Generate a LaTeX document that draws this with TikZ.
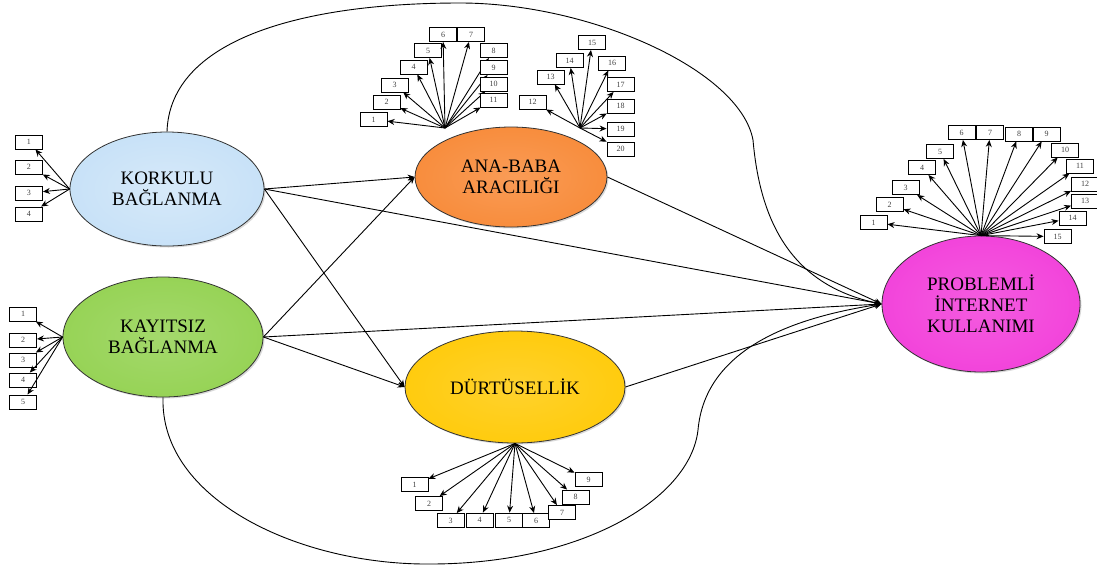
\documentclass[tikz,border=0pt]{standalone}
\usepackage{fontspec}
\setmainfont{Liberation Serif}
\usetikzlibrary{arrows.meta,shapes.geometric,shadows}
\definecolor{cK}{HTML}{C5E0F7}
\definecolor{cY}{HTML}{94D252}
\definecolor{cA}{HTML}{F88A38}
\definecolor{cD}{HTML}{FFCA08}
\definecolor{cP}{HTML}{F23FDA}
\pgfdeclareradialshading{rimK}{\pgfpoint{0bp}{0bp}}{color(0bp)=(cK!70!white); color(30bp)=(cK); color(45bp)=(cK); color(50bp)=(cK!45!black); color(70bp)=(cK!45!black)}
\pgfdeclareradialshading{rimY}{\pgfpoint{0bp}{0bp}}{color(0bp)=(cY!85!white); color(30bp)=(cY); color(45bp)=(cY); color(50bp)=(cY!45!black); color(70bp)=(cY!45!black)}
\pgfdeclareradialshading{rimA}{\pgfpoint{0bp}{0bp}}{color(0bp)=(cA!85!white); color(30bp)=(cA); color(45bp)=(cA); color(50bp)=(cA!45!black); color(70bp)=(cA!45!black)}
\pgfdeclareradialshading{rimD}{\pgfpoint{0bp}{0bp}}{color(0bp)=(cD!85!white); color(30bp)=(cD); color(45bp)=(cD); color(50bp)=(cD!45!black); color(70bp)=(cD!45!black)}
\pgfdeclareradialshading{rimP}{\pgfpoint{0bp}{0bp}}{color(0bp)=(cP!85!white); color(30bp)=(cP); color(45bp)=(cP); color(50bp)=(cP!45!black); color(70bp)=(cP!45!black)}
\begin{document}
\begin{tikzpicture}[x=1pt,y=-1pt,
  lat/.style={ellipse,draw=black!80,line width=0.8pt,inner sep=0pt,align=center,
    font=\fontsize{19}{21}\selectfont,
    drop shadow={shadow xshift=1.5pt,shadow yshift=-1.5pt,opacity=.3}},
  ind/.style={draw,line width=0.9pt,minimum width=27pt,minimum height=14pt,inner sep=0pt,
    font=\fontsize{8}{8}\selectfont,text=black!75,fill=white},
  arr/.style={line width=0.9pt,-{Stealth[length=7pt,width=6pt]}},
  cov/.style={line width=0.9pt,-{Stealth[length=7pt,width=6pt]}}]
\useasboundingbox (0,0) rectangle (1097,566);

% latent variables
\node[lat,shading=rimK,minimum width=194pt,minimum height=114pt] (K) at (167,189) {KORKULU\\BAĞLANMA};
\node[lat,shading=rimY,minimum width=200pt,minimum height=120pt] (Y) at (163,337) {KAYITSIZ\\BAĞLANMA};
\node[lat,shading=rimA,minimum width=192pt,minimum height=100pt] (A) at (511,177) {ANA-BABA\\ARACILIĞI};
\node[lat,shading=rimD,minimum width=220pt,minimum height=112pt] (D) at (515,387) {DÜRTÜSELLİK};
\node[lat,shading=rimP,minimum width=198pt,minimum height=136pt] (P) at (981,304) {PROBLEMLİ\\İNTERNET\\KULLANIMI};

% structural paths
\draw[arr] (K.east) -- (A.west);
\draw[arr] (K.east) -- (D.west);
\draw[arr] (K.east) -- (P.west);
\draw[arr] (Y.east) -- (A.west);
\draw[arr] (Y.east) -- (D.west);
\draw[arr] (Y.east) -- (P.west);
\draw[arr] (A.east) -- (P.west);
\draw[arr] (D.east) -- (P.west);

% long curved paths
\draw[cov] (K.north) .. controls (170,40) and (300,3) .. (460,3)
  .. controls (590,3) and (740,70) .. (753,140)
  .. controls (760,220) and (790,285) .. (P.west);
\draw[cov] (Y.south) .. controls (160,500) and (300,565) .. (430,564)
  .. controls (580,564) and (690,500) .. (698,430)
  .. controls (705,350) and (790,318) .. (P.west);

% KORKULU indicators
\foreach \n/\y in {1/142,2/167,3/193,4/214}{
  \node[ind] (k\n) at (29,\y) {\n};
  \draw[arr] (K.west) -- (k\n);
}
% KAYITSIZ indicators
\foreach \n/\y in {1/314,2/340,3/360,4/380,5/402}{
  \node[ind] (y\n) at (23,\y) {\n};
  \draw[arr] (Y.west) -- (y\n);
}
% ANA-BABA indicators
\coordinate (as1) at (445,128);
\coordinate (as2) at (580,128);
\foreach \n/\x/\y in {1/373.5/119.5,2/386.5/102,3/394.5/85,4/413.5/67,5/428/50.5,6/443/34.5,
  7/471/34.5,8/493.5/50.5,9/493.5/67.5,10/493.5/84,11/493.5/100}{
  \node[ind] (a\n) at (\x,\y) {\n};
  \draw[arr] (as1) -- (a\n);
}
\foreach \n/\x/\y in {12/532.5/102,13/550.5/77,14/569.5/60.5,15/592/42.5,16/612/63,
  17/620.5/84.5,18/620.5/106,19/620.5/129,20/620.5/149}{
  \node[ind] (a\n) at (\x,\y) {\n};
  \draw[arr] (as2) -- (a\n);
}
% PROBLEMLI indicators
\foreach \n/\x/\y in {1/873.5/222.5,2/889.5/204.5,3/905.5/187.5,4/922/167.5,5/940/151.5,
  6/961.5/132.5,7/990/132.5,8/1019/134,9/1046.5/134,10/1065/150,11/1080/166,
  12/1085/184,13/1085/201,14/1072.5/218,15/1057.5/236.5}{
  \node[ind] (p\n) at (\x,\y) {\n};
  \draw[arr] (P.north) -- (p\n);
}
% DURTUSELLIK indicators
\foreach \n/\x/\y in {1/414.5/484.5,2/429/503.5,3/450.5/520.5,4/479.5/520,5/509/520,
  6/536/520.5,7/562/512.5,8/575.5/497,9/588.5/479.5}{
  \node[ind] (d\n) at (\x,\y) {\n};
  \draw[arr] (D.south) -- (d\n);
}
\end{tikzpicture}
\end{document}
